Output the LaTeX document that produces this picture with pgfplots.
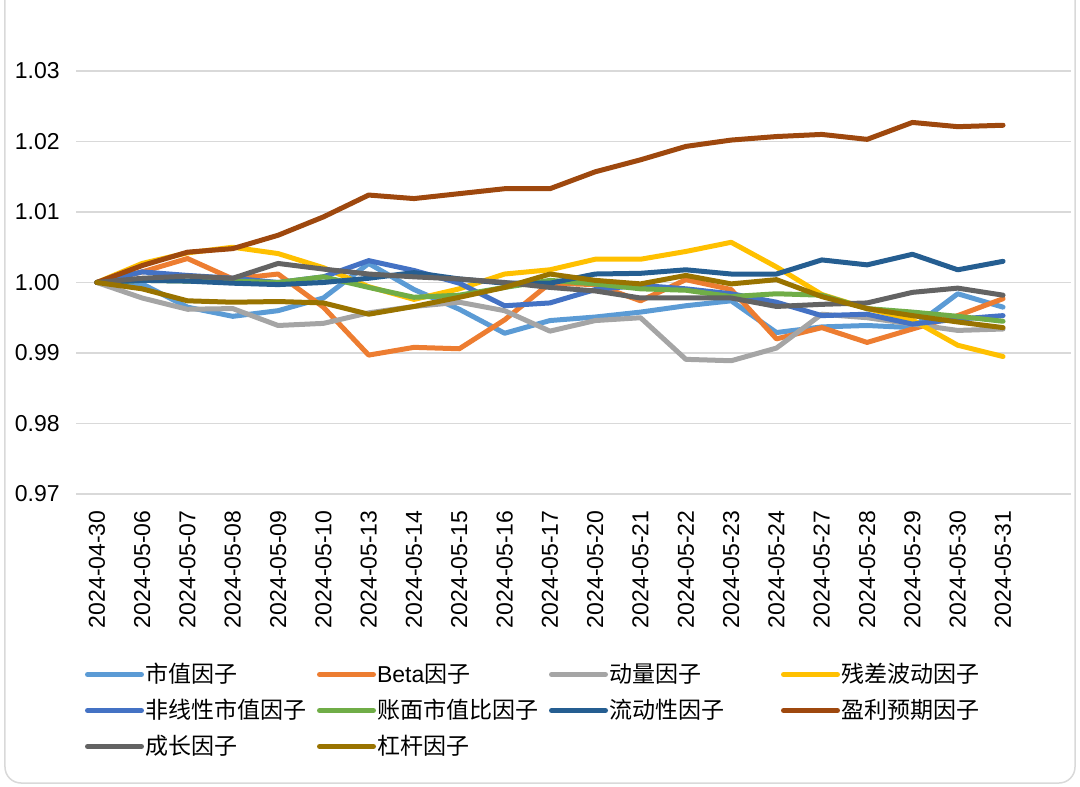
\documentclass[border=0pt]{standalone}
\usepackage{fontspec}
\setmainfont{Liberation Sans}
\newfontfamily\cjk{Noto Sans CJK SC}
\usepackage{pgfplots}
\usepackage{pgfplotstable}
\pgfplotsset{compat=1.18}

\definecolor{cMV}{HTML}{5B9BD5}
\definecolor{cBeta}{HTML}{ED7D31}
\definecolor{cMom}{HTML}{A5A5A5}
\definecolor{cRes}{HTML}{FFC000}
\definecolor{cNL}{HTML}{4472C4}
\definecolor{cBP}{HTML}{70AD47}
\definecolor{cLiq}{HTML}{255E91}
\definecolor{cEarn}{HTML}{9E480E}
\definecolor{cGrow}{HTML}{636363}
\definecolor{cLev}{HTML}{997300}
\definecolor{grid}{HTML}{D9D9D9}

\pgfplotstableread{
i mv beta mom res nl bp liq earn grow lev
0 1.0000 1.0000 1.0000 1.0000 1.0000 1.0000 1.0000 1.0000 1.0000 1.0000
1 0.9998 1.0015 0.9978 1.0027 1.0015 1.0003 1.0003 1.0024 1.0006 0.9991
2 0.9965 1.0034 0.9962 1.0042 1.0010 1.0002 1.0002 1.0043 1.0009 0.9974
3 0.9952 1.0005 0.9963 1.0050 1.0006 1.0002 0.9999 1.0048 1.0006 0.9972
4 0.9960 1.0012 0.9939 1.0041 1.0000 1.0000 0.9997 1.0067 1.0027 0.9973
5 0.9978 0.9965 0.9942 1.0021 1.0008 1.0008 1.0000 1.0093 1.0019 0.9971
6 1.0027 0.9897 0.9957 0.9994 1.0031 0.9993 1.0006 1.0124 1.0012 0.9955
7 0.9990 0.9908 0.9966 0.9976 1.0017 0.9979 1.0014 1.0119 1.0008 0.9966
8 0.9962 0.9906 0.9972 0.9991 0.9999 0.9982 1.0005 1.0126 1.0005 0.9979
9 0.9928 0.9947 0.9960 1.0012 0.9967 0.9993 0.9999 1.0133 1.0000 0.9993
10 0.9946 0.9999 0.9931 1.0018 0.9971 1.0003 0.9999 1.0133 0.9993 1.0012
11 0.9951 0.9997 0.9946 1.0033 0.9990 0.9998 1.0012 1.0157 0.9988 1.0003
12 0.9958 0.9974 0.9950 1.0033 0.9996 0.9991 1.0013 1.0174 0.9978 0.9998
13 0.9967 1.0004 0.9891 1.0044 0.9991 0.9989 1.0018 1.0193 0.9978 1.0010
14 0.9974 0.9990 0.9889 1.0057 0.9984 0.9980 1.0012 1.0202 0.9978 0.9998
15 0.9929 0.9920 0.9907 1.0022 0.9972 0.9984 1.0012 1.0207 0.9966 1.0004
16 0.9937 0.9936 0.9955 0.9983 0.9953 0.9982 1.0032 1.0210 0.9969 0.9980
17 0.9939 0.9915 0.9950 0.9963 0.9955 0.9963 1.0025 1.0203 0.9971 0.9963
18 0.9936 0.9934 0.9941 0.9947 0.9941 0.9958 1.0040 1.0227 0.9986 0.9953
19 0.9984 0.9953 0.9932 0.9911 0.9948 0.9952 1.0018 1.0221 0.9992 0.9944
20 0.9965 0.9977 0.9934 0.9895 0.9953 0.9945 1.0030 1.0223 0.9982 0.9936
}\datatable

\begin{document}
\begin{tikzpicture}
\path[use as bounding box] (-38pt,-146pt) rectangle (502pt,247pt);
\begin{axis}[
  at={(0,0)}, anchor=south west,
  scale only axis,
  width=497.5pt, height=236.2pt,
  xmin=-0.46, xmax=21.5,
  ymin=0.97, ymax=1.037,
  ytick={0.97,0.98,0.99,1.00,1.01,1.02,1.03},
  xtick={0,...,20},
  xticklabels={2024-04-30,2024-05-06,2024-05-07,2024-05-08,2024-05-09,2024-05-10,2024-05-13,2024-05-14,2024-05-15,2024-05-16,2024-05-17,2024-05-20,2024-05-21,2024-05-22,2024-05-23,2024-05-24,2024-05-27,2024-05-28,2024-05-29,2024-05-30,2024-05-31},
  axis line style={draw=none},
  major tick length=0pt,
  ymajorgrids,
  major grid style={color=grid, line width=0.75pt},
  tick label style={font=\fontsize{11.5}{13.8}\selectfont, inner sep=0pt},
  xticklabel style={rotate=90, anchor=east},
  xticklabel shift=8pt,
  yticklabel shift=8pt,
  yticklabel style={/pgf/number format/.cd, fixed, fixed zerofill, precision=2, assume math mode=true},
  every axis plot/.append style={line width=2.5pt, line join=round, line cap=round, no markers},
  legend columns=4,
  legend cell align=left,
  legend image code/.code={\draw[#1] (0pt,0pt) -- (27pt,0pt);},
  legend style={
    at={(axis description cs:0,0)}, anchor=north west,
    xshift=4.5pt, yshift=-84.5pt,
    draw=none, fill=none, inner sep=0pt, outer sep=0pt,
    row sep=6.5pt,
    font=\fontsize{11.5}{13.8}\selectfont,
    nodes={inner sep=0pt, text height=9.5pt, text depth=2pt},
    /tikz/every odd column/.append style={column sep=0.5pt},
  },
]
\addplot[color=cMV]   table[x=i, y=mv]   {\datatable}; \addlegendentry{\makebox[86pt][l]{\cjk 市值因子}}
\addplot[color=cBeta] table[x=i, y=beta] {\datatable}; \addlegendentry{\makebox[86pt][l]{Beta{\cjk 因子}}}
\addplot[color=cMom]  table[x=i, y=mom]  {\datatable}; \addlegendentry{\makebox[86pt][l]{\cjk 动量因子}}
\addplot[color=cRes]  table[x=i, y=res]  {\datatable}; \addlegendentry{\makebox[86pt][l]{\cjk 残差波动因子}}
\addplot[color=cNL]   table[x=i, y=nl]   {\datatable}; \addlegendentry{\makebox[86pt][l]{\cjk 非线性市值因子}}
\addplot[color=cBP]   table[x=i, y=bp]   {\datatable}; \addlegendentry{\makebox[86pt][l]{\cjk 账面市值比因子}}
\addplot[color=cLiq]  table[x=i, y=liq]  {\datatable}; \addlegendentry{\makebox[86pt][l]{\cjk 流动性因子}}
\addplot[color=cEarn] table[x=i, y=earn] {\datatable}; \addlegendentry{\makebox[86pt][l]{\cjk 盈利预期因子}}
\addplot[color=cGrow] table[x=i, y=grow] {\datatable}; \addlegendentry{\makebox[86pt][l]{\cjk 成长因子}}
\addplot[color=cLev]  table[x=i, y=lev]  {\datatable}; \addlegendentry{\makebox[86pt][l]{\cjk 杠杆因子}}
\end{axis}
\draw[color=grid, line width=0.75pt, rounded corners=8pt]
  (-35.5pt,260pt) -- (-35.5pt,-144.5pt) -- (499.5pt,-144.5pt) -- (499.5pt,260pt);
\end{tikzpicture}
\end{document}
